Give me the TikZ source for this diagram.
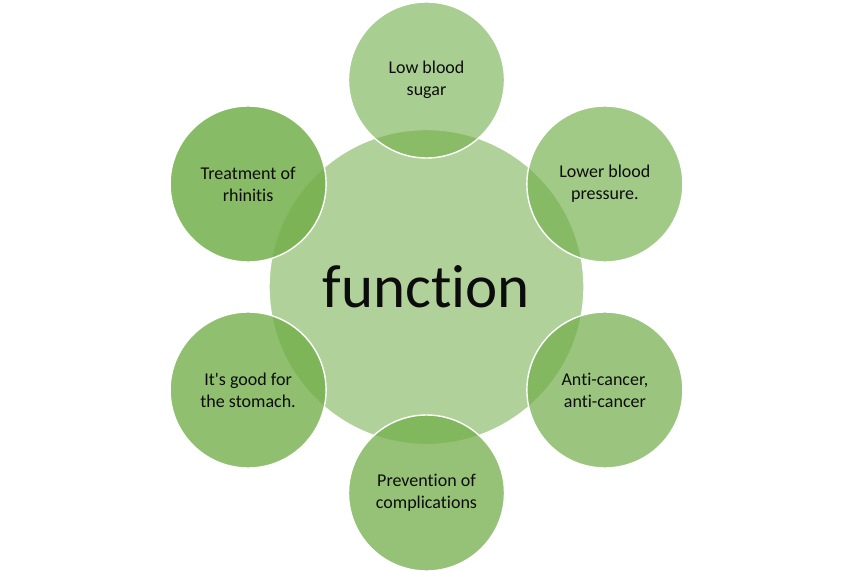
\documentclass[tikz,border=0pt]{standalone}
\usepackage{fontspec}
\setmainfont[Ligatures={NoCommon}]{Carlito}
\usepackage{tikz}
\usetikzlibrary{positioning, calc}
\definecolor{leaf}{RGB}{112,173,71}
\definecolor{ink}{RGB}{12,12,12}
\tikzset{
  hub/.style    ={circle, draw=white, line width=1.4pt, fill=leaf, fill opacity=0.55,
                  text opacity=1, minimum size=315pt, inner sep=0pt, text=ink,
                  font=\fontsize{61}{66}\selectfont},
  petal/.style  ={circle, draw=white, line width=1.4pt, fill=leaf, text opacity=1,
                  minimum size=156pt, inner sep=0pt, align=center, text=ink,
                  font=\fontsize{18}{22}\selectfont},
}

\begin{document}
\begin{tikzpicture}[x=1pt, y=1pt]
\useasboundingbox (0,0) rectangle (854,571);

\node[hub] (hub) at (426.5, 284) {function};

\node[petal, fill opacity=0.60] (sugar)   at ($(hub)+(90:207)$)  {Low blood\\sugar};
\node[petal, fill opacity=0.65] (press)   at ($(hub)+(30:206)$)  {Lower blood\\pressure.};
\node[petal, fill opacity=0.70] (cancer)  at ($(hub)+(-30:206)$) {Anti-cancer,\\anti-cancer};
\node[petal, fill opacity=0.74] (compl)   at ($(hub)+(-90:206)$) {Prevention of\\complications};
\node[petal, fill opacity=0.78] (stomach) at ($(hub)+(210:206)$) {It\textquotesingle s good for\\the stomach.};
\node[petal, fill opacity=0.83] (rhin)    at ($(hub)+(150:206)$) {Treatment of\\rhinitis};
\end{tikzpicture}
\end{document}
